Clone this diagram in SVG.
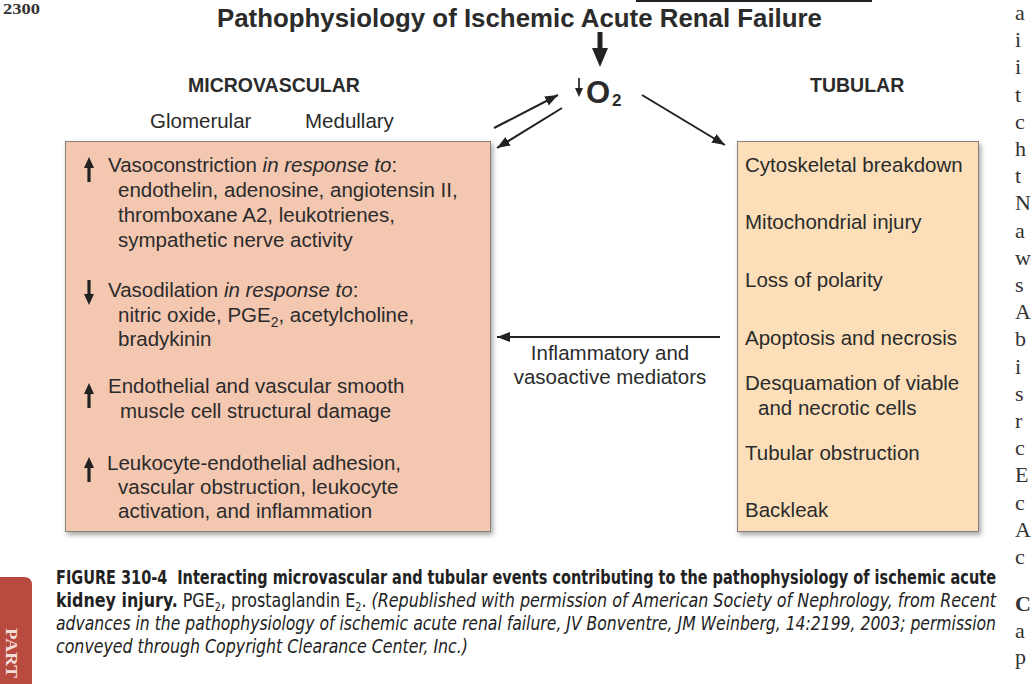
<svg xmlns="http://www.w3.org/2000/svg" xmlns:xlink="http://www.w3.org/1999/xlink" width="1036" height="684" viewBox="0 0 1036 684">
<defs>
<style>
.t{font-family:'Liberation Sans',Arial,sans-serif;font-size:20.5px;fill:#2b2b2b}
.h{font-family:'Liberation Sans',Arial,sans-serif;font-weight:bold;font-size:19.5px;fill:#2b2b2b}
.i{font-style:italic}
.cap{font-family:'Liberation Sans Narrow','DejaVu Sans Condensed','Liberation Sans',sans-serif;font-size:20px;fill:#222}
.b{font-weight:bold}
.m{font-family:'Liberation Serif','Times New Roman',serif;font-size:22px;fill:#333}
.conn{stroke:#222;stroke-width:2;fill:none}
.box{stroke:#8c7f78;stroke-width:1}
</style>
<filter id="sh" x="-5%" y="-5%" width="112%" height="112%">
<feDropShadow dx="2" dy="3" stdDeviation="2.5" flood-color="#000" flood-opacity="0.35"/>
</filter>
<marker id="ah" markerUnits="userSpaceOnUse" markerWidth="14" markerHeight="10" refX="13" refY="5" orient="auto">
<path d="M0,0 L13,5 L0,10 Z" fill="#222"/>
</marker>
<path id="up" d="M0,0 L5,11 L1.6,11 L1.6,25 L-1.6,25 L-1.6,11 L-5,11 Z" fill="#222"/>
</defs>
<rect width="1036" height="684" fill="#ffffff"/>

<g id="page">
<text x="3" y="14" font-family="'Liberation Serif',serif" font-weight="bold" font-size="14" fill="#333" textLength="37" lengthAdjust="spacingAndGlyphs">2300</text>
<rect x="636" y="0" width="236" height="2" fill="#222"/>
<path d="M0,577 H24 Q32,577 32,585 V684 H0 Z" fill="#b84a3f"/>
<text transform="translate(6,628) rotate(90)" font-family="'Liberation Serif',serif" font-weight="bold" font-size="17" fill="#f3dcd6" textLength="50" lengthAdjust="spacingAndGlyphs">PART</text>
<g class="m">
<text x="1015" y="20">a</text>
<text x="1015" y="47">i</text>
<text x="1015" y="74">i</text>
<text x="1015" y="102">t</text>
<text x="1015" y="129">c</text>
<text x="1015" y="156">h</text>
<text x="1015" y="183">t</text>
<text x="1015" y="210">N</text>
<text x="1015" y="238">a</text>
<text x="1015" y="265">w</text>
<text x="1015" y="292">s</text>
<text x="1015" y="319">A</text>
<text x="1015" y="346">b</text>
<text x="1015" y="374">i</text>
<text x="1015" y="401">s</text>
<text x="1015" y="428">r</text>
<text x="1015" y="455">c</text>
<text x="1015" y="482">E</text>
<text x="1015" y="510">c</text>
<text x="1015" y="537">A</text>
<text x="1015" y="564">c</text>
<text x="1015" y="611" font-weight="bold">C</text>
<text x="1015" y="638">a</text>
<text x="1015" y="664">p</text>
</g>
</g>

<g id="title">
<text x="217" y="27" font-family="'Liberation Sans',Arial,sans-serif" font-weight="bold" font-size="25" fill="#2b2b2b" textLength="605" lengthAdjust="spacingAndGlyphs">Pathophysiology of Ischemic Acute Renal Failure</text>
<path d="M597.5,32 H602.5 V48 H608 L600,67 L592,48 H597.5 Z" fill="#222"/>
</g>

<g id="o2">
<path d="M579,78 V91" stroke="#222" stroke-width="1.7"/>
<path d="M575,88 L583,88 L579,97 Z" fill="#222"/>
<text x="586" y="103" font-family="'Liberation Sans',Arial,sans-serif" font-weight="bold" font-size="31" fill="#2b2b2b">O</text>
<text x="612" y="106" font-family="'Liberation Sans',Arial,sans-serif" font-weight="bold" font-size="17" fill="#2b2b2b">2</text>
</g>

<g id="headers">
<text class="h" x="188" y="92">MICROVASCULAR</text>
<text class="h" x="810" y="92">TUBULAR</text>
<text class="t" x="150" y="128">Glomerular</text>
<text class="t" x="305" y="128">Medullary</text>
</g>

<g id="microvascular">
<rect class="box" x="65.5" y="141.5" width="425" height="390" fill="#f4c7b1" filter="url(#sh)"/>
<use xlink:href="#up" x="89" y="157"/>
<use xlink:href="#up" transform="translate(89,305) scale(1,-1)"/>
<use xlink:href="#up" x="89" y="383"/>
<use xlink:href="#up" x="89" y="457"/>
<text class="t" x="108" y="172">Vasoconstriction <tspan class="i">in response to</tspan>:</text>
<text class="t" x="118" y="197">endothelin, adenosine, angiotensin II,</text>
<text class="t" x="118" y="222">thromboxane A2, leukotrienes,</text>
<text class="t" x="118" y="247">sympathetic nerve activity</text>
<text class="t" x="108" y="297">Vasodilation <tspan class="i">in response to</tspan>:</text>
<text class="t" x="118" y="322">nitric oxide, PGE<tspan dy="5" font-size="14">2</tspan><tspan dy="-5">, acetylcholine,</tspan></text>
<text class="t" x="118" y="346">bradykinin</text>
<text class="t" x="108" y="393">Endothelial and vascular smooth</text>
<text class="t" x="120" y="418">muscle cell structural damage</text>
<text class="t" x="107" y="470">Leukocyte-endothelial adhesion,</text>
<text class="t" x="118" y="494">vascular obstruction, leukocyte</text>
<text class="t" x="118" y="518">activation, and inflammation</text>
</g>

<g id="tubular">
<rect class="box" x="737.5" y="141.5" width="241" height="390" fill="#fcdfb9" filter="url(#sh)"/>
<text class="t" x="745" y="172">Cytoskeletal breakdown</text>
<text class="t" x="745" y="229">Mitochondrial injury</text>
<text class="t" x="745" y="287">Loss of polarity</text>
<text class="t" x="745" y="345">Apoptosis and necrosis</text>
<text class="t" x="745" y="390">Desquamation of viable</text>
<text class="t" x="758" y="415">and necrotic cells</text>
<text class="t" x="745" y="460">Tubular obstruction</text>
<text class="t" x="745" y="517">Backleak</text>
</g>

<g id="connectors">
<line class="conn" x1="494" y1="128" x2="558" y2="95" marker-end="url(#ah)"/>
<line class="conn" x1="562" y1="108" x2="497" y2="148" marker-end="url(#ah)"/>
<line class="conn" x1="642" y1="95" x2="725" y2="145" marker-end="url(#ah)"/>
<line class="conn" x1="720" y1="337" x2="497" y2="337" marker-end="url(#ah)"/>
<text class="t" x="610" y="360" text-anchor="middle">Inflammatory and</text>
<text class="t" x="610" y="384" text-anchor="middle">vasoactive mediators</text>
</g>

<g id="caption">
<text class="cap b" x="56" y="584" textLength="940" lengthAdjust="spacingAndGlyphs">FIGURE 310-4 <tspan dx="6">Interacting microvascular and tubular events contributing to the pathophysiology of ischemic acute</tspan></text>
<text class="cap" x="56" y="607" textLength="940" lengthAdjust="spacingAndGlyphs"><tspan class="b">kidney injury.</tspan> PGE<tspan dy="4" font-size="12">2</tspan><tspan dy="-4">, prostaglandin E</tspan><tspan dy="4" font-size="12">2</tspan><tspan dy="-4">. </tspan><tspan class="i">(Republished with permission of American Society of Nephrology, from Recent</tspan></text>
<text class="cap i" x="56" y="630" textLength="940" lengthAdjust="spacingAndGlyphs">advances in the pathophysiology of ischemic acute renal failure, JV Bonventre, JM Weinberg, 14:2199, 2003; permission</text>
<text class="cap i" x="56" y="653" textLength="412" lengthAdjust="spacingAndGlyphs">conveyed through Copyright Clearance Center, Inc.)</text>
</g>
</svg>
